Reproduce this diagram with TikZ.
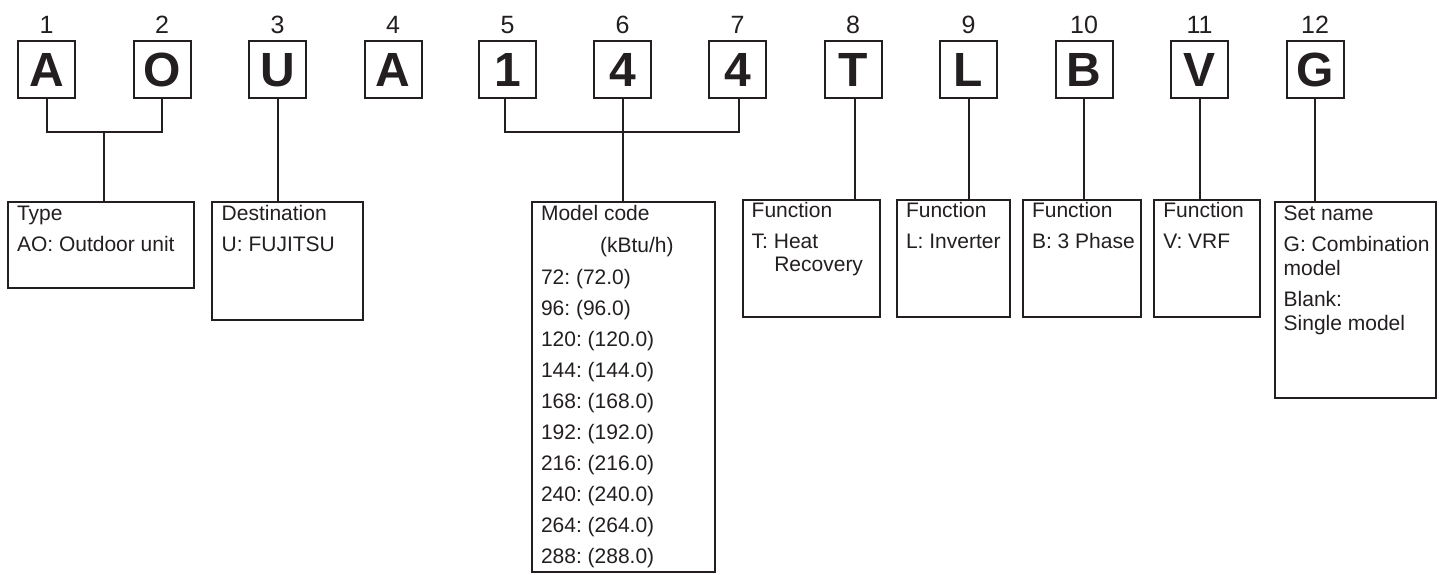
\documentclass[tikz,border=0pt]{standalone}
\usepackage{fontspec}
\setmainfont{Liberation Sans}
\frenchspacing
\definecolor{ink}{HTML}{231F20}
\begin{document}
\begin{tikzpicture}[x=1pt,y=-1pt,line width=2pt,color=ink,
  letterbox/.style={draw,minimum size=57pt,inner sep=0pt,text height=34.4pt,text depth=0pt,font=\fontsize{48}{50}\selectfont\bfseries},
  numlabel/.style={anchor=base,inner sep=0pt,font=\fontsize{25}{28}\selectfont},
  descbox/.style={draw,anchor=north west,inner sep=0pt},
  desc/.style={anchor=base west,inner sep=0pt,font=\fontsize{21}{24}\selectfont},
  conn/.style={line width=2pt}]
\useasboundingbox (0,0) rectangle (1439,574);
% letter boxes
\foreach \i/\cx/\l in {1/46.5/A,2/162/O,3/277.5/U,4/393/A,5/507.5/1,6/622.5/4,7/737.5/4,8/853/T,9/968.5/L,10/1084/B,11/1199.5/V,12/1315/G}{
  \node[letterbox] (b\i) at (\cx,69.5) {\l};
  \node[numlabel] (n\i) at (\cx,33) {\i};
}
% description boxes
\node[descbox,minimum width=186pt,minimum height=86.6pt] (d1) at (7,200.7) {};
\node[descbox,minimum width=151pt,minimum height=118.3pt] (d2) at (211.3,200.7) {};
\node[descbox,minimum width=183.6pt,minimum height=370.3pt] (d3) at (530.7,200.7) {};
\node[descbox,minimum width=137.3pt,minimum height=117.6pt] (d4) at (741.7,198.7) {};
\node[descbox,minimum width=113.6pt,minimum height=117.6pt] (d5) at (895.7,198.7) {};
\node[descbox,minimum width=118.3pt,minimum height=117.6pt] (d6) at (1021.7,198.7) {};
\node[descbox,minimum width=106.6pt,minimum height=117.6pt] (d7) at (1152.7,198.7) {};
\node[descbox,minimum width=161.3pt,minimum height=195.7pt] (d8) at (1273.7,201) {};
% connectors
\coordinate (j1) at (104,131.7);
\coordinate (j2) at (623,131.7);
\draw[conn] (b1.south) -- (b1.south |- j1) -- (b2.south |- j1) -- (b2.south);
\draw[conn] (j1) -- (j1 |- d1.north);
\draw[conn] (b3.south) -- (b3.south |- d2.north);
\draw[conn] ([xshift=-3pt]b5.south) -- ([xshift=-3pt]b5.south |- j2) -- ([xshift=1pt]b7.south |- j2) -- ([xshift=1pt]b7.south);
\draw[conn] (b6.south) -- (b6.south |- j2);
\draw[conn] (j2) -- (j2 |- d3.north);
\draw[conn] ([xshift=2pt]b8.south) -- ([xshift=2pt]b8.south |- d4.north);
\draw[conn] (b9.south) -- (b9.south |- d5.north);
\draw[conn] (b10.south) -- (b10.south |- d6.north);
\draw[conn] (b11.south) -- (b11.south |- d7.north);
\draw[conn] (b12.south) -- (b12.south |- d8.north);
% texts
\node[desc] (t1a) at (16,220) {Type};
\node[desc] (t1b) at (16,251.7) {AO: Outdoor unit};
\node[desc] (t2a) at (220.7,220) {Destination};
\node[desc] (t2b) at (220.7,251.7) {U: FUJITSU};
\node[desc] (t3a) at (540,220) {Model code};
\node[desc] (t3b) at (599,252.5) {(kBtu/h)};
\foreach \k/\v in {0/72,1/96,2/120,3/144,4/168,5/192,6/216,7/240,8/264,9/288}{
  \node[desc] (m\v) at (540,284+31*\k) {\v: (\v.0)};
}
\node[desc] (t4a) at (750.7,217.3) {Function};
\node[desc] (t4b) at (750.7,248.3) {T: Heat};
\node[desc] (t4c) at (773.3,271.7) {Recovery};
\node[desc] (t5a) at (905,217.3) {Function};
\node[desc] (t5b) at (905,248.3) {L: Inverter};
\node[desc] (t6a) at (1031,217.3) {Function};
\node[desc] (t6b) at (1031,248.3) {B: 3 Phase};
\node[desc] (t7a) at (1162.3,217.3) {Function};
\node[desc] (t7b) at (1162.3,248.3) {V: VRF};
\node[desc] (t8a) at (1282.7,220) {Set name};
\node[desc] (t8b) at (1282.7,251.7) {G: Combination};
\node[desc] (t8c) at (1282.7,275) {model};
\node[desc] (t8d) at (1282.7,306.7) {Blank:};
\node[desc] (t8e) at (1282.7,330) {Single model};
\end{tikzpicture}
\end{document}
